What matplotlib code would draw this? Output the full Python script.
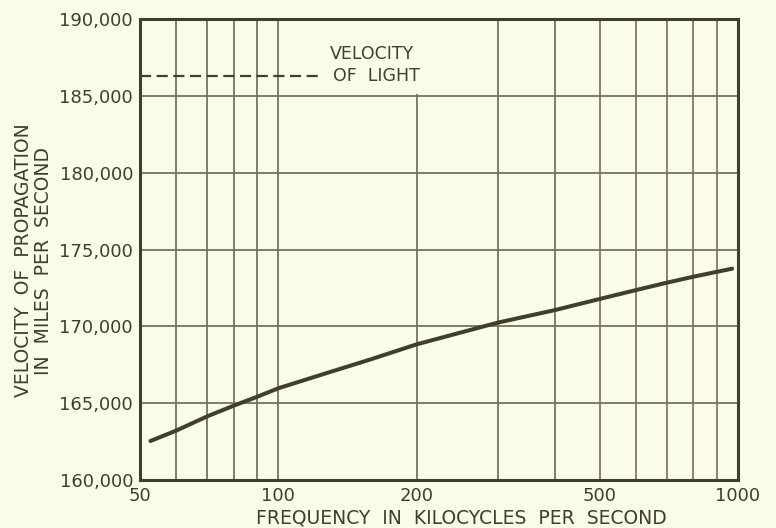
import matplotlib.pyplot as plt
from matplotlib.patches import Rectangle
from matplotlib.ticker import FixedLocator, NullFormatter, FuncFormatter

# values
freq_kc = [52.7, 60, 70, 80, 90, 100, 124, 158, 200, 300, 400, 500, 600, 700, 800, 900, 971]
velocity = [162540, 163220, 164140, 164840, 165420, 165970, 166850, 167830, 168830,
            170240, 171060, 171780, 172360, 172840, 173230, 173550, 173750]

light_freq = [50, 123]
light_velocity = [186300, 186300]

x_major = [50, 100, 200, 500, 1000]
x_grid = [60, 70, 80, 90, 100, 200, 300, 400, 500, 600, 700, 800, 900]
y_ticks = [160000, 165000, 170000, 175000, 180000, 185000, 190000]

bg = '#fbfbea'
ink = '#3f3f2a'
grid_col = '#74745a'
grid_col_right = '#85775f'

plt.rcParams['font.family'] = ['DejaVu Sans']

fig = plt.figure(figsize=(7.76, 5.28), dpi=100, facecolor=bg)
ax = fig.add_axes([0.1804, 0.0909, 0.7706, 0.8731], facecolor=bg)

ax.set_xscale('log')
ax.set_xlim(50, 1000)
ax.set_ylim(160000, 190000)

for xv in x_grid:
    ax.axvline(xv, color=grid_col_right if xv >= 500 else grid_col, lw=1.3, zorder=1)
for yv in y_ticks[1:-1]:
    ax.axhline(yv, color=grid_col, lw=1.3, zorder=1)

# blank patch behind the label, as in the original drawing
ax.add_patch(Rectangle((103, 185120), 112, 4880, facecolor=bg, edgecolor='none', zorder=1.5))

ax.plot(light_freq, light_velocity, color=ink, lw=1.6, ls=(0, (5, 2.5)), zorder=2)
ax.text(129.5, 187700, 'VELOCITY', fontsize=12.5, color=ink, ha='left', va='center', zorder=3)
ax.text(131.5, 186300, 'OF  LIGHT', fontsize=12.5, color=ink, ha='left', va='center', zorder=3)

ax.plot(freq_kc, velocity, color=ink, lw=2.9, solid_capstyle='round', zorder=4)

ax.xaxis.set_major_locator(FixedLocator(x_major))
ax.xaxis.set_minor_locator(FixedLocator([]))
ax.xaxis.set_major_formatter(FuncFormatter(lambda v, p: f'{int(v)}'))
ax.xaxis.set_minor_formatter(NullFormatter())
ax.yaxis.set_major_locator(FixedLocator(y_ticks))
ax.yaxis.set_major_formatter(FuncFormatter(lambda v, p: f'{int(v):,}'))

ax.tick_params(axis='both', length=0, labelsize=13, colors=ink, pad=5)
for s in ax.spines.values():
    s.set_color(ink)
    s.set_linewidth(2.2)
    s.set_zorder(5)

fig.text(0.594, 0.019, 'FREQUENCY  IN  KILOCYCLES  PER  SECOND', fontsize=13.5, color=ink,
         ha='center', va='center')
fig.text(0.030, 0.508, 'VELOCITY  OF  PROPAGATION', rotation=90, fontsize=13.5,
         color=ink, ha='center', va='center')
fig.text(0.056, 0.505, 'IN  MILES  PER  SECOND', rotation=90, fontsize=13.5,
         color=ink, ha='center', va='center')

fig.savefig('out.png', dpi=100, facecolor=bg)
